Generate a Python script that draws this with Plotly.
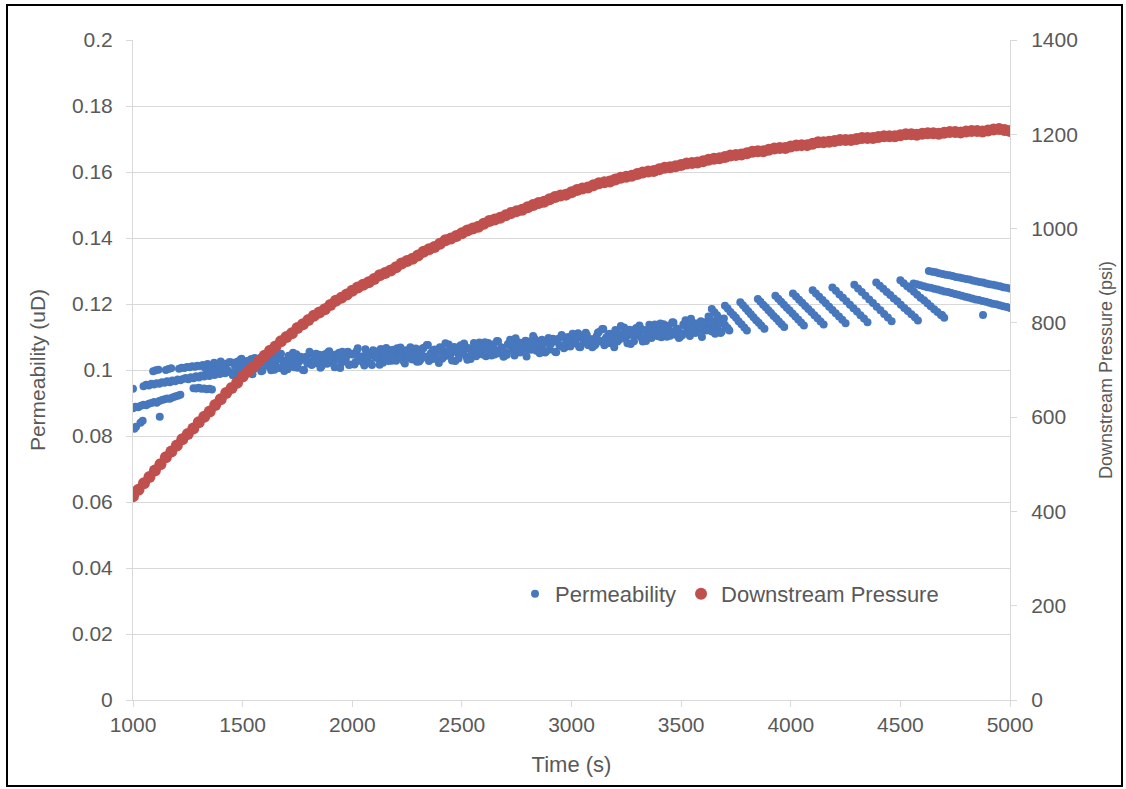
import plotly.graph_objects as go

# ---------------- data ----------------
# Downstream pressure (psi), sampled every 25 s from 1000 s to 5000 s
pressure_time = list(range(1000, 5001, 25))
pressure_psi = [
    432, 446, 460, 473, 487, 500, 515, 527, 540, 553, 564, 576, 589, 601, 612, 626,
    638, 651, 662, 673, 686, 697, 707, 719, 730, 741, 750, 761, 770, 778, 789, 797,
    806, 815, 822, 829, 838, 847, 853, 860, 868, 875, 881, 886, 893, 901, 906, 911,
    918, 926, 931, 936, 943, 951, 956, 961, 968, 975, 979, 984, 990, 996, 1000, 1004,
    1010, 1016, 1019, 1023, 1028, 1033, 1037, 1040, 1045, 1050, 1054, 1057, 1062, 1067,
    1070, 1072, 1077, 1082, 1085, 1087, 1092, 1096, 1098, 1100, 1104, 1108, 1110, 1112,
    1116, 1119, 1121, 1122, 1126, 1129, 1130, 1132, 1135, 1138, 1139, 1140, 1143, 1146,
    1148, 1149, 1152, 1155, 1156, 1157, 1160, 1163, 1164, 1164, 1167, 1170, 1171, 1171,
    1174, 1176, 1177, 1177, 1180, 1183, 1183, 1184, 1186, 1188, 1188, 1188, 1190, 1192,
    1192, 1192, 1194, 1196, 1196, 1196, 1198, 1200, 1200, 1199, 1201, 1202, 1202, 1201,
    1203, 1205, 1205, 1204, 1206, 1207, 1207, 1206, 1208, 1210, 1211, 1209, 1207,
]

# Permeability (uD): early scattered bands and isolated readings
perm_lone_t = [1000, 1006, 1014, 1034, 1044, 1122, 4690, 4877]
perm_lone_k = [0.0943, 0.0822, 0.0828, 0.0840, 0.0846, 0.0858, 0.1167, 0.1167]

perm_band_a_t = [1000, 1012, 1024, 1036, 1048, 1060, 1072, 1084, 1096, 1108, 1120,
                 1132, 1144, 1156, 1168, 1180, 1192, 1204, 1216]
perm_band_a_k = [0.0884, 0.0889, 0.0887, 0.0892, 0.0895, 0.0893, 0.0898, 0.0900, 0.0903,
                 0.0901, 0.0906, 0.0909, 0.0911, 0.0914, 0.0913, 0.0917, 0.0920, 0.0922, 0.0925]

perm_band_b_t = list(range(1048, 1445, 12))
perm_band_b_k = [0.0951, 0.0955, 0.0953, 0.0958, 0.0956, 0.0960, 0.0958, 0.0963, 0.0961,
                 0.0966, 0.0963, 0.0968, 0.0966, 0.0971, 0.0969, 0.0973, 0.0976, 0.0972,
                 0.0978, 0.0975, 0.0981, 0.0977, 0.0983, 0.0980, 0.0986, 0.0982, 0.0988,
                 0.0985, 0.0991, 0.0988, 0.0994, 0.0990, 0.0997, 0.0993]

perm_band_c_t = [1092, 1104, 1116, 1150, 1162, 1174, 1210, 1222, 1234, 1246, 1258, 1270,
                 1282, 1294, 1306, 1318]
perm_band_c_k = [0.0996, 0.0999, 0.1001, 0.1000, 0.1003, 0.1005, 0.1004, 0.1007, 0.1006,
                 0.1009, 0.1008, 0.1011, 0.1010, 0.1013, 0.1012, 0.1015]

perm_band_d_t = [1276, 1288, 1300, 1312, 1324, 1336, 1348, 1360]
perm_band_d_k = [0.0945, 0.0944, 0.0946, 0.0943, 0.0944, 0.0942, 0.0943, 0.0941]

perm_band_e_t = [1330, 1340, 1350, 1360, 1370, 1380, 1390, 1400, 1410, 1420, 1430, 1440]
perm_band_e_k = [0.1005, 0.1018, 0.0998, 0.1012, 0.1022, 0.1002, 0.1015, 0.1026, 0.1008,
                 0.1019, 0.1001, 0.1024]

# Permeability: dense band, every 10 s from 1450 s to 3690 s
perm_main_t = list(range(1450, 3700, 10))
perm_main_k = [
    0.1023, 0.0988, 0.1011, 0.0998, 0.1031,
    0.1011, 0.1026, 0.0989, 0.1015, 0.1033, 0.1002, 0.1022, 0.1013, 0.1036, 0.0998,
    0.1033, 0.1014, 0.1024, 0.0999, 0.1036, 0.1015, 0.1044, 0.1006, 0.1030, 0.0997,
    0.1028, 0.1043, 0.1016, 0.1052, 0.1023, 0.1007, 0.1036, 0.1031, 0.0999, 0.1040,
    0.1022, 0.1050, 0.1018, 0.1036, 0.1029, 0.1046, 0.1011, 0.1034, 0.1021, 0.1054,
    0.1030, 0.1045, 0.1008, 0.1034, 0.1052, 0.1021, 0.1041, 0.1032, 0.1055, 0.1017,
    0.1047, 0.1017, 0.1057, 0.1033, 0.1040, 0.1022, 0.1063, 0.1027, 0.1044, 0.1015,
    0.1055, 0.1043, 0.1033, 0.1064, 0.1022, 0.1050, 0.1040, 0.1059, 0.1028, 0.1046,
    0.1028, 0.1055, 0.1068, 0.1038, 0.1020, 0.1050, 0.1059, 0.1033, 0.1045, 0.1065,
    0.1045, 0.1030, 0.1065, 0.1040, 0.1076, 0.1027, 0.1052, 0.1060, 0.1034, 0.1055,
    0.1069, 0.1034, 0.1057, 0.1044, 0.1077, 0.1049, 0.1064, 0.1027, 0.1053, 0.1071,
    0.1051, 0.1080, 0.1042, 0.1066, 0.1033, 0.1059, 0.1074, 0.1047, 0.1083, 0.1054,
    0.1072, 0.1042, 0.1082, 0.1058, 0.1065, 0.1047, 0.1088, 0.1052, 0.1069, 0.1040,
    0.1052, 0.1079, 0.1092, 0.1062, 0.1044, 0.1074, 0.1083, 0.1057, 0.1069, 0.1089,
    0.1062, 0.1082, 0.1073, 0.1096, 0.1058, 0.1087, 0.1068, 0.1078, 0.1053, 0.1090,
    0.1062, 0.1091, 0.1086, 0.1054, 0.1095, 0.1073, 0.1101, 0.1069, 0.1087, 0.1080,
    0.1102, 0.1090, 0.1080, 0.1111, 0.1069, 0.1097, 0.1087, 0.1106, 0.1075, 0.1093,
    0.1093, 0.1078, 0.1113, 0.1088, 0.1124, 0.1075, 0.1100, 0.1108, 0.1082, 0.1103,
    0.1121, 0.1086, 0.1109, 0.1096, 0.1129, 0.1101, 0.1116, 0.1079, 0.1105, 0.1123,
    0.1106, 0.1135, 0.1097, 0.1121, 0.1088, 0.1114, 0.1129, 0.1102, 0.1138, 0.1109,
    0.1129, 0.1099, 0.1139, 0.1115, 0.1122, 0.1104, 0.1145, 0.1109, 0.1126, 0.1097,
    0.1111, 0.1138, 0.1151, 0.1121, 0.1103, 0.1133, 0.1142, 0.1116, 0.1128, 0.1148,
    0.1121, 0.1141, 0.1132, 0.1155, 0.1117, 0.1146, 0.1127, 0.1137, 0.1112, 0.1149,
]

# Permeability: interleaved readings of the dense band, 1455 s to 3695 s
perm_main2_t = list(range(1455, 3700, 10))
perm_main2_k = [
    0.0984, 0.1013, 0.1025, 0.0996, 0.1034,
    0.1013, 0.0999, 0.1028, 0.1019, 0.0987, 0.1036, 0.1009, 0.1024, 0.0996, 0.1030,
    0.1017, 0.1045, 0.1008, 0.1022, 0.1001, 0.1032, 0.1007, 0.1049, 0.1012, 0.1024,
    0.1002, 0.1043, 0.1033, 0.1008, 0.1048, 0.1023, 0.1040, 0.1000, 0.1034, 0.1020,
    0.1055, 0.1015, 0.1032, 0.1049, 0.1020, 0.1007, 0.1036, 0.1048, 0.1019, 0.1057,
    0.1032, 0.1018, 0.1047, 0.1038, 0.1006, 0.1055, 0.1028, 0.1043, 0.1015, 0.1049,
    0.1049, 0.1024, 0.1066, 0.1029, 0.1041, 0.1014, 0.1055, 0.1045, 0.1020, 0.1060,
    0.1039, 0.1056, 0.1016, 0.1050, 0.1036, 0.1067, 0.1027, 0.1044, 0.1061, 0.1032,
    0.1066, 0.1039, 0.1054, 0.1026, 0.1060, 0.1041, 0.1069, 0.1032, 0.1046, 0.1025,
    0.1026, 0.1055, 0.1067, 0.1038, 0.1076, 0.1047, 0.1033, 0.1062, 0.1053, 0.1021,
    0.1064, 0.1039, 0.1081, 0.1044, 0.1056, 0.1029, 0.1070, 0.1060, 0.1035, 0.1075,
    0.1054, 0.1071, 0.1031, 0.1065, 0.1051, 0.1082, 0.1042, 0.1059, 0.1076, 0.1047,
    0.1084, 0.1057, 0.1072, 0.1044, 0.1078, 0.1059, 0.1087, 0.1050, 0.1064, 0.1043,
    0.1046, 0.1075, 0.1087, 0.1058, 0.1096, 0.1067, 0.1053, 0.1082, 0.1073, 0.1041,
    0.1086, 0.1061, 0.1103, 0.1066, 0.1078, 0.1051, 0.1092, 0.1082, 0.1057, 0.1097,
    0.1078, 0.1095, 0.1055, 0.1089, 0.1075, 0.1106, 0.1066, 0.1083, 0.1100, 0.1071,
    0.1110, 0.1083, 0.1098, 0.1070, 0.1104, 0.1085, 0.1113, 0.1076, 0.1090, 0.1069,
    0.1074, 0.1103, 0.1115, 0.1086, 0.1124, 0.1095, 0.1081, 0.1110, 0.1101, 0.1069,
    0.1116, 0.1091, 0.1133, 0.1096, 0.1108, 0.1081, 0.1122, 0.1112, 0.1087, 0.1127,
    0.1109, 0.1126, 0.1086, 0.1120, 0.1106, 0.1137, 0.1097, 0.1114, 0.1131, 0.1102,
    0.1141, 0.1114, 0.1129, 0.1101, 0.1135, 0.1116, 0.1144, 0.1107, 0.1121, 0.1100,
    0.1105, 0.1134, 0.1146, 0.1117, 0.1155, 0.1126, 0.1112, 0.1141, 0.1132, 0.1100,
    0.1145, 0.1120, 0.1162, 0.1125, 0.1137, 0.1110, 0.1151, 0.1141, 0.1116, 0.1156,
]

# Permeability: late stripes (each stripe listed as its own time/value pair)
perm_stripes = [
    ([3640, 3652, 3664, 3676, 3688, 3700, 3712, 3720],
     [0.1185, 0.1175, 0.1166, 0.1156, 0.1146, 0.1136, 0.1127, 0.1120]),
    ([3700, 3712, 3725, 3738, 3750, 3762, 3775, 3788, 3800],
     [0.1195, 0.1186, 0.1176, 0.1167, 0.1158, 0.1148, 0.1139, 0.1129, 0.1120]),
    ([3770, 3782, 3794, 3806, 3818, 3830, 3842, 3854, 3866, 3880],
     [0.1205, 0.1196, 0.1187, 0.1178, 0.1169, 0.1160, 0.1151, 0.1143, 0.1134, 0.1125]),
    ([3850, 3862, 3874, 3886, 3898, 3910, 3922, 3934, 3946, 3958, 3970],
     [0.1215, 0.1207, 0.1198, 0.1190, 0.1181, 0.1173, 0.1164, 0.1156, 0.1147, 0.1139, 0.1130]),
    ([3930, 3943, 3956, 3969, 3982, 3995, 4008, 4021, 4034, 4047, 4060],
     [0.1225, 0.1216, 0.1207, 0.1198, 0.1189, 0.1180, 0.1171, 0.1162, 0.1153, 0.1144, 0.1135]),
    ([4010, 4024, 4038, 4052, 4066, 4080, 4094, 4108, 4122, 4136, 4150],
     [0.1232, 0.1223, 0.1213, 0.1204, 0.1194, 0.1185, 0.1176, 0.1166, 0.1157, 0.1147, 0.1138]),
    ([4100, 4115, 4130, 4145, 4160, 4175, 4190, 4205, 4220, 4235, 4250],
     [0.1242, 0.1232, 0.1222, 0.1212, 0.1202, 0.1192, 0.1182, 0.1172, 0.1162, 0.1152, 0.1142]),
    ([4190, 4206, 4222, 4238, 4254, 4270, 4286, 4302, 4318, 4334, 4350],
     [0.1250, 0.1240, 0.1229, 0.1219, 0.1208, 0.1198, 0.1187, 0.1177, 0.1166, 0.1156, 0.1145]),
    ([4290, 4307, 4324, 4341, 4358, 4375, 4392, 4409, 4426, 4443, 4460],
     [0.1258, 0.1247, 0.1236, 0.1225, 0.1214, 0.1203, 0.1192, 0.1181, 0.1170, 0.1159, 0.1148]),
    ([4390, 4406, 4422, 4438, 4454, 4470, 4486, 4502, 4518, 4534, 4550, 4566, 4580],
     [0.1265, 0.1255, 0.1246, 0.1236, 0.1227, 0.1217, 0.1208, 0.1198, 0.1188, 0.1179, 0.1169, 0.1160, 0.1150]),
    ([4500, 4515, 4531, 4546, 4562, 4577, 4592, 4608, 4623, 4638, 4654, 4669, 4685, 4700],
     [0.1272, 0.1263, 0.1254, 0.1246, 0.1237, 0.1228, 0.1219, 0.1211, 0.1202, 0.1193, 0.1184, 0.1176, 0.1167, 0.1158]),
    ([4560, 4575, 4591, 4607, 4623, 4638, 4654, 4670, 4686, 4701, 4717, 4733, 4749, 4764,
      4780, 4796, 4811, 4827, 4843, 4858, 4874, 4890, 4906, 4921, 4937, 4953, 4969, 4985, 5000],
     [0.1262, 0.1260, 0.1257, 0.1254, 0.1251, 0.1249, 0.1246, 0.1244, 0.1241, 0.1238, 0.1236,
      0.1233, 0.1230, 0.1228, 0.1225, 0.1222, 0.1220, 0.1217, 0.1214, 0.1212, 0.1209, 0.1207,
      0.1204, 0.1201, 0.1199, 0.1196, 0.1193, 0.1191, 0.1188]),
    ([4630, 4646, 4661, 4676, 4692, 4707, 4723, 4738, 4753, 4769, 4784, 4800, 4815, 4830,
      4846, 4861, 4877, 4892, 4907, 4923, 4938, 4954, 4969, 4984, 5000],
     [0.1300, 0.1298, 0.1296, 0.1293, 0.1291, 0.1289, 0.1287, 0.1285, 0.1282, 0.1280, 0.1278,
      0.1276, 0.1274, 0.1271, 0.1269, 0.1267, 0.1265, 0.1262, 0.1260, 0.1258, 0.1256, 0.1254,
      0.1251, 0.1249, 0.1247]),
]

# Axis ticks
x_ticks = [1000, 1500, 2000, 2500, 3000, 3500, 4000, 4500, 5000]
k_ticks = [0, 0.02, 0.04, 0.06, 0.08, 0.1, 0.12, 0.14, 0.16, 0.18, 0.2]
k_tick_text = ["0", "0.02", "0.04", "0.06", "0.08", "0.1", "0.12", "0.14", "0.16", "0.18", "0.2"]
p_ticks = [0, 200, 400, 600, 800, 1000, 1200, 1400]

# ---------------- assemble permeability series ----------------
perm_time = (perm_lone_t + perm_band_a_t + perm_band_b_t + perm_band_c_t
             + perm_band_d_t + perm_band_e_t + perm_main_t + perm_main2_t)
perm_value = (perm_lone_k + perm_band_a_k + perm_band_b_k + perm_band_c_k
              + perm_band_d_k + perm_band_e_k + perm_main_k + perm_main2_k)
for st, sk in perm_stripes:
    perm_time += st
    perm_value += sk

BLUE = "#4777BD"
RED = "#C0504D"
TEXT = "#595959"
GRID = "#D9D9D9"
FONT = "Liberation Sans, Arial, sans-serif"

fig = go.Figure()
fig.add_trace(go.Scatter(
    x=perm_time, y=perm_value, mode="markers", name="Permeability",
    marker=dict(color=BLUE, size=8, line=dict(width=0)),
    yaxis="y",
))
fig.add_trace(go.Scatter(
    x=pressure_time, y=pressure_psi, mode="markers", name="Downstream Pressure",
    marker=dict(color=RED, size=12, line=dict(width=0)),
    yaxis="y2",
))

# Plot area: x 133..1010 px, y 40..700 px
L, R, T, B = 133, 116, 40, 89
W, H = 1126, 789
pw, ph = W - L - R, H - T - B


def px_x(px):
    return (px - L) / pw


def px_y(py):
    return (H - B - py) / ph


axis_common = dict(
    showline=True, linecolor=GRID, linewidth=1,
    ticks="outside", ticklen=6, tickcolor=GRID,
    tickfont=dict(family=FONT, size=21, color=TEXT),
    zeroline=False,
)

fig.update_layout(
    width=W, height=H,
    margin=dict(l=L, r=R, t=T, b=B, autoexpand=False),
    paper_bgcolor="white", plot_bgcolor="white",
    font=dict(family=FONT, color=TEXT, size=20),
    xaxis=dict(
        range=[1000, 5000], tickvals=x_ticks, showgrid=False,
        title=dict(text="Time (s)", font=dict(family=FONT, size=22, color=TEXT), standoff=21),
        **axis_common,
    ),
    yaxis=dict(
        range=[0, 0.2], tickvals=k_ticks, ticktext=k_tick_text,
        showgrid=True, gridcolor=GRID, gridwidth=1, ticklabelstandoff=9,
        title=dict(text="Permeability (uD)", font=dict(family=FONT, size=21, color=TEXT), standoff=20),
        **axis_common,
    ),
    yaxis2=dict(
        range=[0, 1400], tickvals=p_ticks, overlaying="y", side="right",
        showgrid=False, ticklabelstandoff=10,
        title=dict(text="Downstream Pressure (psi)", font=dict(family=FONT, size=18, color=TEXT), standoff=22),
        **axis_common,
    ),
    legend=dict(
        orientation="h", x=px_x(515), y=px_y(594), xanchor="left", yanchor="middle",
        bgcolor="rgba(0,0,0,0)", font=dict(family=FONT, size=22, color=TEXT),
        itemwidth=30,
    ),
    showlegend=True,
)

# Outer frame around the whole chart
fig.add_shape(
    type="rect", xref="paper", yref="paper",
    x0=px_x(7), x1=px_x(1122), y0=px_y(786), y1=px_y(5),
    line=dict(color="black", width=2), fillcolor="rgba(0,0,0,0)", layer="above",
)

fig.write_html("out.html")
